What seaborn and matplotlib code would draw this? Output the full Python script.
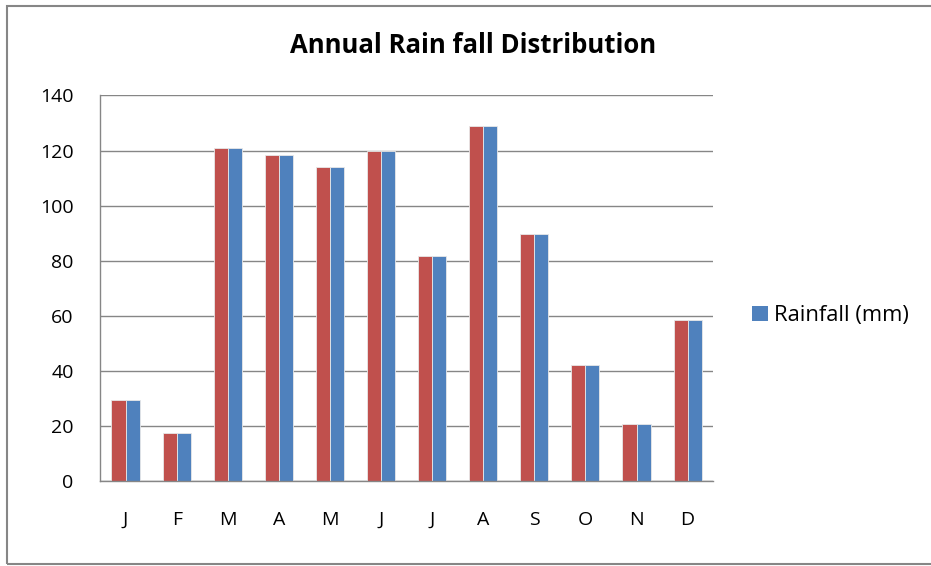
import matplotlib
matplotlib.use("Agg")
import matplotlib.pyplot as plt
import matplotlib.patches as mpatches
import seaborn as sns
import pandas as pd
import numpy as np

months = ["J", "F", "M", "A", "M", "J", "J", "A", "S", "O", "N", "D"]
rain_red = [29.6, 17.5, 120.9, 118.4, 114.2, 120.0, 81.9, 129.1, 89.8, 42.3, 20.9, 58.6]
rain_blue = [29.6, 17.5, 120.9, 118.4, 114.2, 120.0, 81.9, 129.1, 89.8, 42.3, 20.9, 58.6]
series_names = ["Series 1", "Rainfall (mm)"]
yticks = [0, 20, 40, 60, 80, 100, 120, 140]

sns.set_theme(style="white")
plt.rcParams['font.family'] = ['Open Sans', 'DejaVu Sans']
plt.rcParams['text.color'] = 'black'
plt.rcParams['xtick.labelcolor'] = 'black'
plt.rcParams['ytick.labelcolor'] = 'black'

idx = list(range(len(months)))
df = pd.DataFrame({
    "pos": idx + idx,
    "series": [series_names[0]] * len(idx) + [series_names[1]] * len(idx),
    "value": rain_red + rain_blue,
})

fig = plt.figure(figsize=(9.31, 5.66), dpi=100)
ax = fig.add_axes([0.1074, 0.1493, 0.766 - 0.1074, 0.8313 - 0.1493])

red = "#C0504D"
blue = "#4F81BD"
sns.barplot(data=df, x="pos", y="value", hue="series", order=idx,
            hue_order=series_names, palette=[red, blue], width=0.55,
            saturation=1, ax=ax, legend=False, linewidth=0.6, edgecolor="#e8e8e8")

ax.set_ylim(0, 140)
ax.set_xlim(-0.5, len(months) - 0.5)
ax.set_yticks(yticks)
ax.set_yticklabels([str(v) for v in yticks], fontsize=14)
ax.set_xticks(idx)
ax.set_xticklabels(months, fontsize=14)
ax.set_xticks(np.arange(-0.5, len(months), 1.0), minor=True)
ax.tick_params(axis="x", which="major", length=0, pad=21, labelcolor="black")
ax.tick_params(axis="x", which="minor", length=6, width=1, color="#868686", direction="out")
ax.tick_params(axis="y", which="major", length=6, width=1, color="#868686", direction="out", pad=13, labelcolor="black")
ax.yaxis.grid(True, color="#868686", linewidth=1)
ax.set_axisbelow(True)
for s in ["top", "right"]:
    ax.spines[s].set_visible(False)
for s in ["left", "bottom"]:
    ax.spines[s].set_color("#868686")
    ax.spines[s].set_linewidth(1)
ax.set_xlabel("")
ax.set_ylabel("")

fig.text(0.5086, 0.92, "Annual Rain fall Distribution", ha="center", va="center",
         fontsize=18.5, fontweight="bold", color="black")

handle = mpatches.Patch(facecolor=blue, edgecolor="none", label=series_names[1])
fig.legend(handles=[handle], loc="center left", bbox_to_anchor=(0.808, 0.4417),
           frameon=False, fontsize=15.8, handlelength=0.7, handleheight=0.7,
           handletextpad=0.3, borderaxespad=0, borderpad=0, labelcolor="black")

border = mpatches.Rectangle((0.008, 0.0035), 1.0, 0.9865, transform=fig.transFigure,
                            fill=False, edgecolor="#868686", linewidth=1.5)
fig.patches.append(border)

fig.savefig("out.png", dpi=100)
